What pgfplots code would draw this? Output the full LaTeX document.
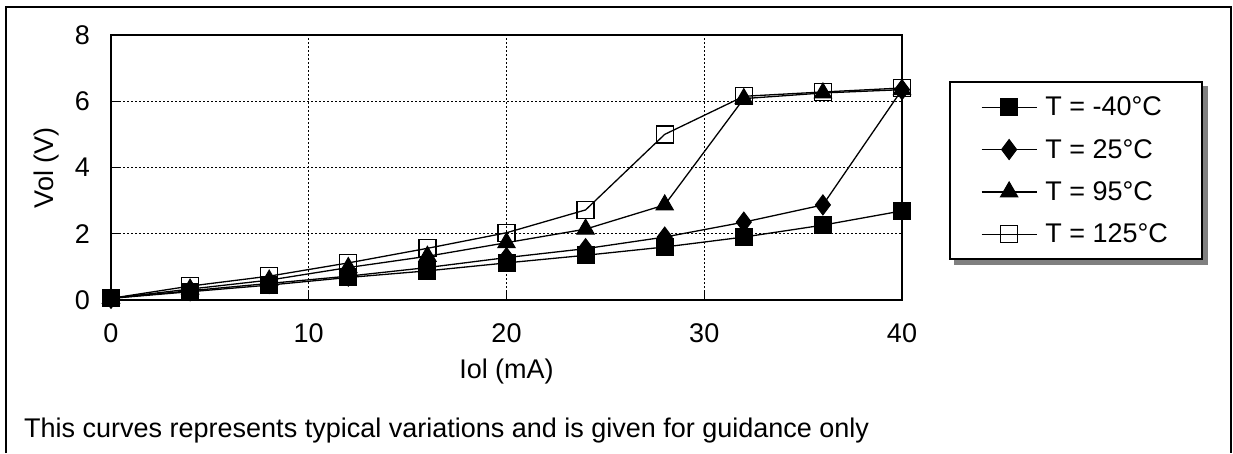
\documentclass[border=0pt]{standalone}
\usepackage{fontspec}
\setmainfont{Liberation Sans}
\usepackage{pgfplots}
\pgfplotsset{compat=1.18}
\usetikzlibrary{backgrounds}

\newcommand{\chartfont}{\fontsize{27}{32}\selectfont}

\begin{document}
\begin{tikzpicture}[x=1pt,y=1pt,font=\chartfont]
\useasboundingbox (0,0) rectangle (1233,453);
% outer frame (open at the bottom edge)
\draw[line width=2pt] (6,0) -- (6,446) -- (1231,446) -- (1231,0);

\begin{axis}[
    at={(111pt,153pt)}, anchor=south west,
    scale only axis,
    width=791pt, height=265pt,
    xmin=0, xmax=40, ymin=0, ymax=8,
    xtick={0,10,...,40}, ytick={0,2,...,8},
    tick pos=left, tick align=inside,
    major tick length=8pt,
    tick style={black, line width=1.4pt},
    axis line style={black, line width=1.4pt},
    grid=major,
    major grid style={black, line width=1.3pt, dash pattern=on 2pt off 2pt},
    /pgf/number format/assume math mode=true,
    tick label style={font=\chartfont},
    yticklabel style={inner sep=0pt, xshift=-21pt},
    xticklabel style={inner sep=0pt, yshift=-23pt},
    xlabel={Iol (mA)},
    ylabel={Vol (V)},
    label style={font=\chartfont},
    xlabel style={at={(axis description cs:0.5,0)}, anchor=base, inner sep=0pt, yshift=-78pt},
    ylabel style={at={(axis description cs:-0.081,0.5)}, anchor=center, inner sep=0pt},
    clip=false,
    every axis plot/.append style={black, line width=1.3pt},
    legend image code/.code={
        \draw[mark repeat=2, mark phase=2, #1]
            plot coordinates {(0pt,0pt) (27.5pt,0pt) (55pt,0pt)};
    },
    legend cell align=left,
    legend style={
        name=leg,
        at={(1.0594,0.8264)}, anchor=north west,
        draw=black, line width=2pt, fill=white,
        inner xsep=31pt, inner ysep=15pt,
        row sep=22pt, column sep=8pt,
        font=\chartfont,
        nodes={inner sep=0pt},
    },
]
\addplot[mark=square*, mark size=8.5pt, mark options={solid, fill=black, line width=1pt}]
coordinates {
    (0,0.05) (4,0.25) (8,0.45) (12,0.68) (16,0.88) (20,1.12)
    (24,1.35) (28,1.60) (32,1.90) (36,2.26) (40,2.69)
};
\addplot[mark=diamond*, mark size=10pt, mark options={solid, fill=black, line width=1pt}]
coordinates {
    (0,0.05) (4,0.28) (8,0.50) (12,0.72) (16,0.98) (20,1.28)
    (24,1.55) (28,1.90) (32,2.35) (36,2.87) (40,6.35)
};
\addplot[mark=triangle*, mark size=10pt, mark options={solid, fill=black, line width=1pt}]
coordinates {
    (0,0.05) (4,0.33) (8,0.60) (12,0.98) (16,1.32) (20,1.73)
    (24,2.14) (28,2.87) (32,6.08) (36,6.25) (40,6.35)
};
\addplot[mark=square, mark size=8.5pt, mark options={solid, line width=1.3pt}]
coordinates {
    (0,0.05) (4,0.42) (8,0.72) (12,1.12) (16,1.56) (20,2.03)
    (24,2.72) (28,5.00) (32,6.15) (36,6.28) (40,6.40)
};
\legend{T = -40°C\hspace*{9pt}, T = 25°C, T = 95°C, T = 125°C}
\end{axis}

% legend shadow
\begin{scope}[on background layer]
\fill[gray] ([xshift=5pt,yshift=-5pt]leg.south west) rectangle ([xshift=5pt,yshift=-5pt]leg.north east);
\end{scope}

\node[anchor=base west, inner sep=0pt] at (24,16)
    {This curves represents typical variations and is given for guidance only};
\end{tikzpicture}
\end{document}
